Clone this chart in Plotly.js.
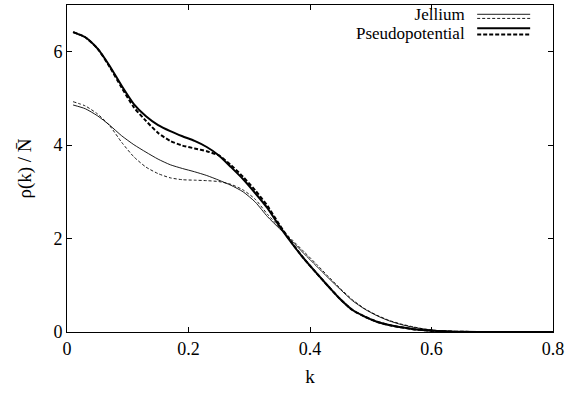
<!DOCTYPE html>
<html><head><meta charset="utf-8">
<script src="https://cdn.plot.ly/plotly-3.0.1.min.js"></script>
<style>body{margin:0;background:#fff}#c{width:579px;height:396px}</style>
</head><body><div id="c"></div>
<script>
const k = [0.01,0.03,0.05,0.07,0.09,0.11,0.13,0.15,0.17,0.19,0.21,0.23,0.25,0.27,0.29,0.31,0.33,0.35,0.37,0.39,0.41,0.43,0.45,0.47,0.49,0.51,0.53,0.55,0.57,0.59,0.61,0.63,0.65,0.70,0.75,0.80];
const jelliumSolid  = [4.86,4.78,4.63,4.43,4.20,4.01,3.85,3.70,3.58,3.50,3.43,3.35,3.25,3.14,3.00,2.78,2.47,2.21,1.95,1.68,1.42,1.16,0.91,0.67,0.49,0.35,0.24,0.16,0.10,0.06,0.03,0.015,0.006,0,0,0];
const jelliumDashed = [4.93,4.84,4.67,4.42,4.06,3.75,3.53,3.39,3.30,3.26,3.25,3.24,3.22,3.16,3.04,2.84,2.52,2.24,1.98,1.72,1.46,1.19,0.93,0.69,0.50,0.36,0.25,0.17,0.11,0.06,0.03,0.015,0.006,0,0,0];
const pseudoSolid   = [6.42,6.31,6.07,5.70,5.27,4.88,4.62,4.43,4.30,4.19,4.09,3.96,3.78,3.53,3.27,2.97,2.65,2.26,1.90,1.57,1.27,0.98,0.70,0.47,0.33,0.22,0.15,0.10,0.06,0.035,0.02,0.01,0.004,0,0,0];
const pseudoDashed  = [6.42,6.31,6.07,5.68,5.23,4.81,4.52,4.26,4.09,3.99,3.93,3.87,3.78,3.57,3.32,3.03,2.70,2.29,1.91,1.57,1.27,0.98,0.70,0.47,0.33,0.22,0.15,0.10,0.06,0.035,0.02,0.01,0.004,0,0,0];
const xTicks = [0,0.2,0.4,0.6,0.8];
const yTicks = [0,2,4,6];
const legendNames = ["Jellium","Pseudopotential"];

const F = "Liberation Serif";
function tr(y, w, dash){return {x:k,y:y,mode:'lines',line:{color:'#000',width:w,dash:dash,shape:'spline',smoothing:0.6},showlegend:false,hoverinfo:'skip'};}
const data = [
  tr(jelliumSolid,0.9,'solid'),
  tr(jelliumDashed,0.9,'3px,2px'),
  tr(pseudoSolid,2,'solid'),
  tr(pseudoDashed,2,'4px,2px')
];
const lx0=0.844, lx1=0.953;
function ls(y,w,dash){return {type:'line',xref:'paper',yref:'paper',x0:lx0,x1:lx1,y0:y,y1:y,line:{color:'#000',width:w,dash:dash}};}
const sp = s => '<span style="font-size:17px">'+s+'</span>';
const layout = {
  width:579,height:396,
  margin:{l:67,r:26,t:5,b:64},
  paper_bgcolor:'#fff',plot_bgcolor:'#fff',
  font:{family:F,size:18,color:'#000'},
  xaxis:{range:[0,0.8],tickvals:xTicks,ticktext:xTicks.map(String),ticks:'inside',ticklen:5,tickcolor:'#000',
    showline:true,linecolor:'#000',linewidth:1,mirror:'ticks',showgrid:false,zeroline:false,
    title:{text:'k',font:{family:F,size:19},standoff:12},tickfont:{family:F,size:18}},
  yaxis:{range:[0,7],tickvals:yTicks,ticktext:yTicks.map(String),ticks:'inside',ticklen:5,tickcolor:'#000',
    showline:true,linecolor:'#000',linewidth:1,mirror:'ticks',showgrid:false,zeroline:false,
    title:{text:'ρ(k) / N\u0304',font:{family:F,size:19},standoff:16},tickfont:{family:F,size:18}},
  annotations:[
    {xref:'paper',yref:'paper',x:0.823,y:0.9434,xanchor:'right',yanchor:'middle',align:'right',
     text:sp(legendNames[0])+'<br>'+sp(legendNames[1]),showarrow:false,font:{family:F,size:14.6}}
  ],
  shapes:[ls(0.9716,0.9,'solid'),ls(0.959,0.9,'3px,2px'),ls(0.9288,2,'solid'),ls(0.910,2,'4px,2px')]
};
Plotly.newPlot('c',data,layout,{displayModeBar:false,staticPlot:true});
</script></body></html>
